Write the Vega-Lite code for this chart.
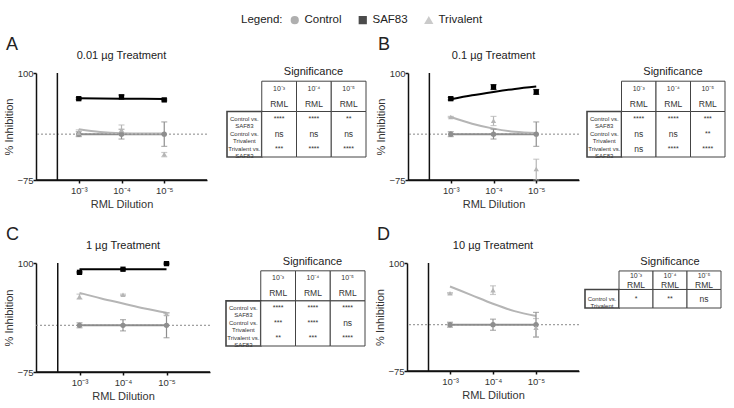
{
  "$schema": "https://vega.github.io/schema/vega-lite/v6.json",
  "background": "white",
  "padding": {"left": 3, "top": 14, "right": 2, "bottom": 2},
  "config": {
    "font": "Liberation Sans",
    "view": {"stroke": null},
    "axis": {"labelFontSize": 9.5, "labelColor": "#333", "titleFontSize": 11, "titleFontWeight": "normal", "titleColor": "#333", "zindex": 1, "domainColor": "#111", "tickColor": "#111", "domainWidth": 1.5, "tickWidth": 1.5, "tickSize": 3, "grid": false},
    "title": {"fontWeight": "normal", "color": "#222", "fontSize": 11},
    "legend": {"titleFontSize": 11.5, "titleFontWeight": "normal", "titleColor": "#222", "labelFontSize": 11.5, "labelColor": "#222", "symbolSize": 45, "columnPadding": 14, "titlePadding": 6, "labelOffset": 4}
  },
  "datasets": {
    "obs": [
      {"panel":"A","series":"Control","dilution":0.001,"value":0,"lo":-4,"hi":4},
      {"panel":"A","series":"Control","dilution":0.0001,"value":0,"lo":-8,"hi":8},
      {"panel":"A","series":"Control","dilution":0.00001,"value":0,"lo":-20,"hi":20},
      {"panel":"A","series":"SAF83","dilution":0.001,"value":58,"lo":56.5,"hi":59.5},
      {"panel":"A","series":"SAF83","dilution":0.0001,"value":61,"lo":58,"hi":64},
      {"panel":"A","series":"SAF83","dilution":0.00001,"value":56,"lo":54.5,"hi":57.5},
      {"panel":"A","series":"Trivalent","dilution":0.001,"value":2,"lo":-3,"hi":7},
      {"panel":"A","series":"Trivalent","dilution":0.0001,"value":7,"lo":-1,"hi":15},
      {"panel":"A","series":"Trivalent","dilution":0.00001,"value":-33,"lo":-37,"hi":-30},
      {"panel":"B","series":"Control","dilution":0.001,"value":0,"lo":-4,"hi":4},
      {"panel":"B","series":"Control","dilution":0.0001,"value":0,"lo":-8,"hi":8},
      {"panel":"B","series":"Control","dilution":0.00001,"value":0,"lo":-20,"hi":20},
      {"panel":"B","series":"SAF83","dilution":0.001,"value":58,"lo":56,"hi":60},
      {"panel":"B","series":"SAF83","dilution":0.0001,"value":77,"lo":73,"hi":81},
      {"panel":"B","series":"SAF83","dilution":0.00001,"value":69,"lo":65,"hi":73},
      {"panel":"B","series":"Trivalent","dilution":0.001,"value":28,"lo":27,"hi":29},
      {"panel":"B","series":"Trivalent","dilution":0.0001,"value":22,"lo":14,"hi":29},
      {"panel":"B","series":"Trivalent","dilution":0.00001,"value":-57,"lo":-75,"hi":-41},
      {"panel":"C","series":"Control","dilution":0.001,"value":0,"lo":-4,"hi":4},
      {"panel":"C","series":"Control","dilution":0.0001,"value":0,"lo":-9,"hi":9},
      {"panel":"C","series":"Control","dilution":0.00001,"value":0,"lo":-20,"hi":20},
      {"panel":"C","series":"SAF83","dilution":0.001,"value":85,"lo":84,"hi":86},
      {"panel":"C","series":"SAF83","dilution":0.0001,"value":90,"lo":89,"hi":91},
      {"panel":"C","series":"SAF83","dilution":0.00001,"value":99,"lo":98,"hi":100},
      {"panel":"C","series":"Trivalent","dilution":0.001,"value":46,"lo":42,"hi":50},
      {"panel":"C","series":"Trivalent","dilution":0.0001,"value":49,"lo":48,"hi":50},
      {"panel":"C","series":"Trivalent","dilution":0.00001,"value":18,"lo":16,"hi":20},
      {"panel":"D","series":"Control","dilution":0.001,"value":0,"lo":-4,"hi":4},
      {"panel":"D","series":"Control","dilution":0.0001,"value":0,"lo":-9,"hi":9},
      {"panel":"D","series":"Control","dilution":0.00001,"value":0,"lo":-20,"hi":20},
      {"panel":"D","series":"Trivalent","dilution":0.001,"value":51,"lo":50,"hi":52},
      {"panel":"D","series":"Trivalent","dilution":0.0001,"value":56,"lo":49,"hi":63},
      {"panel":"D","series":"Trivalent","dilution":0.00001,"value":-5,"lo":-20,"hi":10}
    ],
    "fit": [
      {"panel":"A","series":"Control","dilution":0.001,"value":0},
      {"panel":"A","series":"Control","dilution":0.00001,"value":0},
      {"panel":"A","series":"SAF83","dilution":0.001,"value":58.5},
      {"panel":"A","series":"SAF83","dilution":0.0001,"value":58},
      {"panel":"A","series":"SAF83","dilution":0.00001,"value":57.5},
      {"panel":"A","series":"Trivalent","dilution":0.001,"value":8},
      {"panel":"A","series":"Trivalent","dilution":0.00031623,"value":3.5},
      {"panel":"A","series":"Trivalent","dilution":0.0001,"value":1.5},
      {"panel":"A","series":"Trivalent","dilution":0.000031623,"value":1},
      {"panel":"A","series":"Trivalent","dilution":0.00001,"value":1},
      {"panel":"B","series":"Control","dilution":0.001,"value":0},
      {"panel":"B","series":"Control","dilution":0.00001,"value":0},
      {"panel":"B","series":"SAF83","dilution":0.001,"value":57},
      {"panel":"B","series":"SAF83","dilution":0.00031623,"value":63.5},
      {"panel":"B","series":"SAF83","dilution":0.0001,"value":69},
      {"panel":"B","series":"SAF83","dilution":0.000031623,"value":74},
      {"panel":"B","series":"SAF83","dilution":0.00001,"value":78},
      {"panel":"B","series":"Trivalent","dilution":0.001,"value":28},
      {"panel":"B","series":"Trivalent","dilution":0.00031623,"value":17},
      {"panel":"B","series":"Trivalent","dilution":0.0001,"value":9},
      {"panel":"B","series":"Trivalent","dilution":0.000031623,"value":4},
      {"panel":"B","series":"Trivalent","dilution":0.00001,"value":2},
      {"panel":"C","series":"Control","dilution":0.001,"value":0},
      {"panel":"C","series":"Control","dilution":0.00001,"value":0},
      {"panel":"C","series":"SAF83","dilution":0.001,"value":90},
      {"panel":"C","series":"SAF83","dilution":0.00001,"value":90},
      {"panel":"C","series":"Trivalent","dilution":0.001,"value":52},
      {"panel":"C","series":"Trivalent","dilution":0.00031623,"value":43},
      {"panel":"C","series":"Trivalent","dilution":0.0001,"value":35},
      {"panel":"C","series":"Trivalent","dilution":0.000031623,"value":27},
      {"panel":"C","series":"Trivalent","dilution":0.00001,"value":20},
      {"panel":"D","series":"Control","dilution":0.001,"value":0},
      {"panel":"D","series":"Control","dilution":0.00001,"value":0},
      {"panel":"D","series":"Trivalent","dilution":0.001,"value":62},
      {"panel":"D","series":"Trivalent","dilution":0.00031623,"value":48},
      {"panel":"D","series":"Trivalent","dilution":0.0001,"value":34},
      {"panel":"D","series":"Trivalent","dilution":0.000031623,"value":22},
      {"panel":"D","series":"Trivalent","dilution":0.00001,"value":14}
    ],
    "tables": [
      {"panel":"A","row":"h1","col":"c3","text":"10⁻³"},{"panel":"A","row":"h1","col":"c4","text":"10⁻⁴"},{"panel":"A","row":"h1","col":"c5","text":"10⁻⁵"},
      {"panel":"A","row":"h2","col":"c3","text":"RML"},{"panel":"A","row":"h2","col":"c4","text":"RML"},{"panel":"A","row":"h2","col":"c5","text":"RML"},
      {"panel":"A","row":"r1","col":"label","text":"Control vs.\nSAF83"},{"panel":"A","row":"r1","col":"c3","text":"****"},{"panel":"A","row":"r1","col":"c4","text":"****"},{"panel":"A","row":"r1","col":"c5","text":"**"},
      {"panel":"A","row":"r2","col":"label","text":"Control vs.\nTrivalent"},{"panel":"A","row":"r2","col":"c3","text":"ns"},{"panel":"A","row":"r2","col":"c4","text":"ns"},{"panel":"A","row":"r2","col":"c5","text":"ns"},
      {"panel":"A","row":"r3","col":"label","text":"Trivalent vs.\nSAF83"},{"panel":"A","row":"r3","col":"c3","text":"***"},{"panel":"A","row":"r3","col":"c4","text":"****"},{"panel":"A","row":"r3","col":"c5","text":"****"},
      {"panel":"B","row":"h1","col":"c3","text":"10⁻³"},{"panel":"B","row":"h1","col":"c4","text":"10⁻⁴"},{"panel":"B","row":"h1","col":"c5","text":"10⁻⁵"},
      {"panel":"B","row":"h2","col":"c3","text":"RML"},{"panel":"B","row":"h2","col":"c4","text":"RML"},{"panel":"B","row":"h2","col":"c5","text":"RML"},
      {"panel":"B","row":"r1","col":"label","text":"Control vs.\nSAF83"},{"panel":"B","row":"r1","col":"c3","text":"****"},{"panel":"B","row":"r1","col":"c4","text":"****"},{"panel":"B","row":"r1","col":"c5","text":"***"},
      {"panel":"B","row":"r2","col":"label","text":"Control vs.\nTrivalent"},{"panel":"B","row":"r2","col":"c3","text":"ns"},{"panel":"B","row":"r2","col":"c4","text":"ns"},{"panel":"B","row":"r2","col":"c5","text":"**"},
      {"panel":"B","row":"r3","col":"label","text":"Trivalent vs.\nSAF83"},{"panel":"B","row":"r3","col":"c3","text":"ns"},{"panel":"B","row":"r3","col":"c4","text":"****"},{"panel":"B","row":"r3","col":"c5","text":"****"},
      {"panel":"C","row":"h1","col":"c3","text":"10⁻³"},{"panel":"C","row":"h1","col":"c4","text":"10⁻⁴"},{"panel":"C","row":"h1","col":"c5","text":"10⁻⁵"},
      {"panel":"C","row":"h2","col":"c3","text":"RML"},{"panel":"C","row":"h2","col":"c4","text":"RML"},{"panel":"C","row":"h2","col":"c5","text":"RML"},
      {"panel":"C","row":"r1","col":"label","text":"Control vs.\nSAF83"},{"panel":"C","row":"r1","col":"c3","text":"****"},{"panel":"C","row":"r1","col":"c4","text":"****"},{"panel":"C","row":"r1","col":"c5","text":"****"},
      {"panel":"C","row":"r2","col":"label","text":"Control vs.\nTrivalent"},{"panel":"C","row":"r2","col":"c3","text":"***"},{"panel":"C","row":"r2","col":"c4","text":"****"},{"panel":"C","row":"r2","col":"c5","text":"ns"},
      {"panel":"C","row":"r3","col":"label","text":"Trivalent vs.\nSAF83"},{"panel":"C","row":"r3","col":"c3","text":"**"},{"panel":"C","row":"r3","col":"c4","text":"***"},{"panel":"C","row":"r3","col":"c5","text":"****"},
      {"panel":"D","row":"h1","col":"c3","text":"10⁻³"},{"panel":"D","row":"h1","col":"c4","text":"10⁻⁴"},{"panel":"D","row":"h1","col":"c5","text":"10⁻⁵"},
      {"panel":"D","row":"h2","col":"c3","text":"RML"},{"panel":"D","row":"h2","col":"c4","text":"RML"},{"panel":"D","row":"h2","col":"c5","text":"RML"},
      {"panel":"D","row":"b1","col":"label","text":"Control vs.\nTrivalent"},{"panel":"D","row":"b1","col":"c3","text":"*"},{"panel":"D","row":"b1","col":"c4","text":"**"},{"panel":"D","row":"b1","col":"c5","text":"ns"}
    ]
  },
  "spacing": 16,
  "vconcat": [
    {
      "spacing": 8,
      "hconcat": [
        {
          "title": {"text": "A", "anchor": "start", "fontSize": 18, "offset": -4, "dx": 2},
          "bounds": "flush",
          "spacing": 20,
          "hconcat": [
            {
              "width": 171, "height": 107,
              "title": {"text": "0.01 µg Treatment", "fontSize": 11, "offset": 7},
              "layer": [
                {"data": {"name": "fit"}, "transform": [{"filter": "datum.panel=='A'"}],
                 "mark": {"type": "line", "strokeWidth": 2, "interpolate": "monotone"},
                 "encoding": {
                   "x": {"field": "dilution", "type": "quantitative", "title": "RML Dilution", "scale": {"type": "log", "domain": [0.0000031623, 0.0031623], "reverse": true}, "axis": {"values": [0.001, 0.0001, 0.00001], "labelExpr": "datum.value > 0.0005 ? '10⁻³' : datum.value > 0.00005 ? '10⁻⁴' : '10⁻⁵'", "titlePadding": 4, "labelPadding": 2}},
                   "y": {"field": "value", "type": "quantitative", "title": "% Inhibition", "scale": {"domain": [-75, 100], "nice": false}, "axis": {"values": [-75, -50, -25, 0, 25, 50, 75, 100], "titlePadding": 2, "labelPadding": 0, "labelOverlap": "parity", "labelSeparation": -12}},
                   "color": {"field": "series", "type": "nominal", "title": "Legend:", "scale": {"domain": ["Control", "SAF83", "Trivalent"], "range": ["#8e8e8e", "#000000", "#b5b5b5"]}, "legend": {"orient": "none", "legendX": 205, "legendY": -59, "direction": "horizontal", "titleOrient": "left"}}}},
                {"data": {"name": "obs"}, "transform": [{"filter": "datum.panel=='A' && datum.series=='Control' && datum.dilution==0.001"}],
                 "mark": {"type": "rule", "strokeDash": [2, 2], "color": "#888", "strokeWidth": 1},
                 "encoding": {"y": {"datum": 0, "type": "quantitative"}}},
                {"data": {"name": "obs"}, "transform": [{"filter": "datum.panel=='A' && datum.series=='Control' && datum.dilution==0.001"}],
                 "mark": {"type": "rule", "color": "#111", "strokeWidth": 1.5},
                 "encoding": {"x": {"datum": 0.0031623, "type": "quantitative"}}},
                {"data": {"name": "obs"}, "transform": [{"filter": "datum.panel=='A' && datum.series=='Control' && datum.dilution==0.001"}],
                 "mark": {"type": "rule", "color": "#111", "strokeWidth": 1.5},
                 "encoding": {"y": {"datum": -75, "type": "quantitative"}}},
                {"data": {"name": "obs"}, "transform": [{"filter": "datum.panel=='A'"}],
                 "mark": {"type": "errorbar", "ticks": {"size": 6}, "thickness": 1.2},
                 "encoding": {
                   "x": {"field": "dilution", "type": "quantitative", "title": "RML Dilution"},
                   "y": {"field": "lo", "type": "quantitative", "title": "% Inhibition"},
                   "y2": {"field": "hi"},
                   "color": {"field": "series", "type": "nominal", "title": "Legend:"}}},
                {"data": {"name": "obs"}, "transform": [{"filter": "datum.panel=='A'"}],
                 "mark": {"type": "point", "filled": true, "size": 28, "opacity": 1},
                 "encoding": {
                   "x": {"field": "dilution", "type": "quantitative", "title": "RML Dilution"},
                   "y": {"field": "value", "type": "quantitative", "title": "% Inhibition"},
                   "color": {"field": "series", "type": "nominal", "title": "Legend:"},
                   "shape": {"field": "series", "type": "nominal", "title": "Legend:", "scale": {"domain": ["Control", "SAF83", "Trivalent"], "range": ["circle", "square", "triangle-up"]}, "legend": {"orient": "none", "legendX": 205, "legendY": -59, "direction": "horizontal", "titleOrient": "left"}}}}
              ]
            },
            {
              "width": 139, "height": 84,
              "title": {"text": "Significance", "fontSize": 11, "dx": 17, "offset": -4},
              "data": {"name": "tables"},
              "transform": [{"filter": "datum.panel=='A'"}],
              "layer": [
                {"transform": [{"filter": "datum.row=='h1'"}],
                 "mark": {"type": "rect", "fill": "white", "stroke": "#444", "strokeWidth": 1},
                 "encoding": {
                   "x": {"field": "col", "type": "nominal", "scale": {"domain": ["label", "c3", "c4", "c5"], "paddingInner": 0, "paddingOuter": 0}, "axis": null},
                   "y": {"datum": "h1", "type": "nominal", "bandPosition": 0, "scale": {"domain": ["h1", "h2", "r1", "r2", "r3"], "paddingInner": 0, "paddingOuter": 0.27, "align": 1}, "axis": null},
                   "y2": {"datum": "h2", "bandPosition": 1}}},
                {"transform": [{"filter": "datum.row=='r1'"}],
                 "mark": {"type": "rect", "fill": "white", "stroke": "#444"},
                 "encoding": {
                   "x": {"field": "col", "type": "nominal", "axis": null},
                   "y": {"datum": "r1", "type": "nominal", "bandPosition": 0, "axis": null},
                   "y2": {"datum": "r3", "bandPosition": 1},
                   "strokeWidth": {"condition": {"test": "datum.col=='label'", "value": 1.6}, "value": 1}}},
                {"transform": [{"filter": "datum.row=='h1' || datum.row=='h2'"}],
                 "mark": {"type": "text", "color": "#333"},
                 "encoding": {
                   "x": {"field": "col", "type": "nominal", "axis": null},
                   "y": {"field": "row", "type": "nominal", "axis": null},
                   "text": {"field": "text"},
                   "size": {"condition": {"test": "datum.row=='h2'", "value": 8.5}, "value": 7}}},
                {"transform": [{"filter": "datum.row!='h1' && datum.row!='h2'"}],
                 "mark": {"type": "text", "color": "#333", "lineBreak": "\n", "lineHeight": 7},
                 "encoding": {
                   "x": {"field": "col", "type": "nominal", "axis": null},
                   "y": {"field": "row", "type": "nominal", "axis": null},
                   "text": {"field": "text"},
                   "size": {"condition": [{"test": "datum.col=='label'", "value": 6}, {"test": "datum.text=='ns'", "value": 8.5}], "value": 7}}}
              ]
            }
          ]
        },
        {
          "title": {"text": "B", "anchor": "start", "fontSize": 18, "offset": -4, "dx": 2},
          "bounds": "flush",
          "spacing": 8,
          "hconcat": [
            {
              "width": 171, "height": 107,
              "title": {"text": "0.1 µg Treatment", "fontSize": 11, "offset": 7},
              "layer": [
                {"data": {"name": "fit"}, "transform": [{"filter": "datum.panel=='B'"}],
                 "mark": {"type": "line", "strokeWidth": 2, "interpolate": "monotone"},
                 "encoding": {
                   "x": {"field": "dilution", "type": "quantitative", "title": "RML Dilution", "scale": {"type": "log", "domain": [0.0000031623, 0.0031623], "reverse": true}, "axis": {"values": [0.001, 0.0001, 0.00001], "labelExpr": "datum.value > 0.0005 ? '10⁻³' : datum.value > 0.00005 ? '10⁻⁴' : '10⁻⁵'", "titlePadding": 4, "labelPadding": 2}},
                   "y": {"field": "value", "type": "quantitative", "title": "% Inhibition", "scale": {"domain": [-75, 100], "nice": false}, "axis": {"values": [-75, -50, -25, 0, 25, 50, 75, 100], "titlePadding": 2, "labelPadding": 0, "labelOverlap": "parity", "labelSeparation": -12}},
                   "color": {"field": "series", "type": "nominal", "title": "Legend:"}}},
                {"data": {"name": "obs"}, "transform": [{"filter": "datum.panel=='B' && datum.series=='Control' && datum.dilution==0.001"}],
                 "mark": {"type": "rule", "strokeDash": [2, 2], "color": "#888", "strokeWidth": 1},
                 "encoding": {"y": {"datum": 0, "type": "quantitative"}}},
                {"data": {"name": "obs"}, "transform": [{"filter": "datum.panel=='B' && datum.series=='Control' && datum.dilution==0.001"}],
                 "mark": {"type": "rule", "color": "#111", "strokeWidth": 1.5},
                 "encoding": {"x": {"datum": 0.0031623, "type": "quantitative"}}},
                {"data": {"name": "obs"}, "transform": [{"filter": "datum.panel=='B' && datum.series=='Control' && datum.dilution==0.001"}],
                 "mark": {"type": "rule", "color": "#111", "strokeWidth": 1.5},
                 "encoding": {"y": {"datum": -75, "type": "quantitative"}}},
                {"data": {"name": "obs"}, "transform": [{"filter": "datum.panel=='B'"}],
                 "mark": {"type": "errorbar", "ticks": {"size": 6}, "thickness": 1.2},
                 "encoding": {
                   "x": {"field": "dilution", "type": "quantitative", "title": "RML Dilution"},
                   "y": {"field": "lo", "type": "quantitative", "title": "% Inhibition"},
                   "y2": {"field": "hi"},
                   "color": {"field": "series", "type": "nominal", "title": "Legend:"}}},
                {"data": {"name": "obs"}, "transform": [{"filter": "datum.panel=='B'"}],
                 "mark": {"type": "point", "filled": true, "size": 28, "opacity": 1},
                 "encoding": {
                   "x": {"field": "dilution", "type": "quantitative", "title": "RML Dilution"},
                   "y": {"field": "value", "type": "quantitative", "title": "% Inhibition"},
                   "color": {"field": "series", "type": "nominal", "title": "Legend:"},
                   "shape": {"field": "series", "type": "nominal", "title": "Legend:"}}}
              ]
            },
            {
              "width": 138, "height": 84,
              "title": {"text": "Significance", "fontSize": 11, "dx": 17, "offset": -4},
              "data": {"name": "tables"},
              "transform": [{"filter": "datum.panel=='B'"}],
              "layer": [
                {"transform": [{"filter": "datum.row=='h1'"}],
                 "mark": {"type": "rect", "fill": "white", "stroke": "#444", "strokeWidth": 1},
                 "encoding": {
                   "x": {"field": "col", "type": "nominal", "scale": {"domain": ["label", "c3", "c4", "c5"], "paddingInner": 0, "paddingOuter": 0}, "axis": null},
                   "y": {"datum": "h1", "type": "nominal", "bandPosition": 0, "scale": {"domain": ["h1", "h2", "r1", "r2", "r3"], "paddingInner": 0, "paddingOuter": 0.27, "align": 1}, "axis": null},
                   "y2": {"datum": "h2", "bandPosition": 1}}},
                {"transform": [{"filter": "datum.row=='r1'"}],
                 "mark": {"type": "rect", "fill": "white", "stroke": "#444"},
                 "encoding": {
                   "x": {"field": "col", "type": "nominal", "axis": null},
                   "y": {"datum": "r1", "type": "nominal", "bandPosition": 0, "axis": null},
                   "y2": {"datum": "r3", "bandPosition": 1},
                   "strokeWidth": {"condition": {"test": "datum.col=='label'", "value": 1.6}, "value": 1}}},
                {"transform": [{"filter": "datum.row=='h1' || datum.row=='h2'"}],
                 "mark": {"type": "text", "color": "#333"},
                 "encoding": {
                   "x": {"field": "col", "type": "nominal", "axis": null},
                   "y": {"field": "row", "type": "nominal", "axis": null},
                   "text": {"field": "text"},
                   "size": {"condition": {"test": "datum.row=='h2'", "value": 8.5}, "value": 7}}},
                {"transform": [{"filter": "datum.row!='h1' && datum.row!='h2'"}],
                 "mark": {"type": "text", "color": "#333", "lineBreak": "\n", "lineHeight": 7},
                 "encoding": {
                   "x": {"field": "col", "type": "nominal", "axis": null},
                   "y": {"field": "row", "type": "nominal", "axis": null},
                   "text": {"field": "text"},
                   "size": {"condition": [{"test": "datum.col=='label'", "value": 6}, {"test": "datum.text=='ns'", "value": 8.5}], "value": 7}}}
              ]
            }
          ]
        }
      ]
    },
    {
      "spacing": 8,
      "hconcat": [
        {
          "title": {"text": "C", "anchor": "start", "fontSize": 18, "offset": -4, "dx": 2},
          "bounds": "flush",
          "spacing": 16,
          "hconcat": [
            {
              "width": 174, "height": 109,
              "title": {"text": "1 µg Treatment", "fontSize": 11, "offset": 7},
              "layer": [
                {"data": {"name": "fit"}, "transform": [{"filter": "datum.panel=='C'"}],
                 "mark": {"type": "line", "strokeWidth": 2, "interpolate": "monotone"},
                 "encoding": {
                   "x": {"field": "dilution", "type": "quantitative", "title": "RML Dilution", "scale": {"type": "log", "domain": [0.0000031623, 0.0031623], "reverse": true}, "axis": {"values": [0.001, 0.0001, 0.00001], "labelExpr": "datum.value > 0.0005 ? '10⁻³' : datum.value > 0.00005 ? '10⁻⁴' : '10⁻⁵'", "titlePadding": 4, "labelPadding": 2}},
                   "y": {"field": "value", "type": "quantitative", "title": "% Inhibition", "scale": {"domain": [-75, 100], "nice": false}, "axis": {"values": [-75, -50, -25, 0, 25, 50, 75, 100], "titlePadding": 2, "labelPadding": 0, "labelOverlap": "parity", "labelSeparation": -12}},
                   "color": {"field": "series", "type": "nominal", "title": "Legend:"}}},
                {"data": {"name": "obs"}, "transform": [{"filter": "datum.panel=='C' && datum.series=='Control' && datum.dilution==0.001"}],
                 "mark": {"type": "rule", "strokeDash": [2, 2], "color": "#888", "strokeWidth": 1},
                 "encoding": {"y": {"datum": 0, "type": "quantitative"}}},
                {"data": {"name": "obs"}, "transform": [{"filter": "datum.panel=='C' && datum.series=='Control' && datum.dilution==0.001"}],
                 "mark": {"type": "rule", "color": "#111", "strokeWidth": 1.5},
                 "encoding": {"x": {"datum": 0.0031623, "type": "quantitative"}}},
                {"data": {"name": "obs"}, "transform": [{"filter": "datum.panel=='C' && datum.series=='Control' && datum.dilution==0.001"}],
                 "mark": {"type": "rule", "color": "#111", "strokeWidth": 1.5},
                 "encoding": {"y": {"datum": -75, "type": "quantitative"}}},
                {"data": {"name": "obs"}, "transform": [{"filter": "datum.panel=='C'"}],
                 "mark": {"type": "errorbar", "ticks": {"size": 6}, "thickness": 1.2},
                 "encoding": {
                   "x": {"field": "dilution", "type": "quantitative", "title": "RML Dilution"},
                   "y": {"field": "lo", "type": "quantitative", "title": "% Inhibition"},
                   "y2": {"field": "hi"},
                   "color": {"field": "series", "type": "nominal", "title": "Legend:"}}},
                {"data": {"name": "obs"}, "transform": [{"filter": "datum.panel=='C'"}],
                 "mark": {"type": "point", "filled": true, "size": 28, "opacity": 1},
                 "encoding": {
                   "x": {"field": "dilution", "type": "quantitative", "title": "RML Dilution"},
                   "y": {"field": "value", "type": "quantitative", "title": "% Inhibition"},
                   "color": {"field": "series", "type": "nominal", "title": "Legend:"},
                   "shape": {"field": "series", "type": "nominal", "title": "Legend:"}}}
              ]
            },
            {
              "width": 139, "height": 83,
              "title": {"text": "Significance", "fontSize": 11, "dx": 17, "offset": -4},
              "data": {"name": "tables"},
              "transform": [{"filter": "datum.panel=='C'"}],
              "layer": [
                {"transform": [{"filter": "datum.row=='h1'"}],
                 "mark": {"type": "rect", "fill": "white", "stroke": "#444", "strokeWidth": 1},
                 "encoding": {
                   "x": {"field": "col", "type": "nominal", "scale": {"domain": ["label", "c3", "c4", "c5"], "paddingInner": 0, "paddingOuter": 0}, "axis": null},
                   "y": {"datum": "h1", "type": "nominal", "bandPosition": 0, "scale": {"domain": ["h1", "h2", "r1", "r2", "r3"], "paddingInner": 0, "paddingOuter": 0.26, "align": 1}, "axis": null},
                   "y2": {"datum": "h2", "bandPosition": 1}}},
                {"transform": [{"filter": "datum.row=='r1'"}],
                 "mark": {"type": "rect", "fill": "white", "stroke": "#444"},
                 "encoding": {
                   "x": {"field": "col", "type": "nominal", "axis": null},
                   "y": {"datum": "r1", "type": "nominal", "bandPosition": 0, "axis": null},
                   "y2": {"datum": "r3", "bandPosition": 1},
                   "strokeWidth": {"condition": {"test": "datum.col=='label'", "value": 1.6}, "value": 1}}},
                {"transform": [{"filter": "datum.row=='h1' || datum.row=='h2'"}],
                 "mark": {"type": "text", "color": "#333"},
                 "encoding": {
                   "x": {"field": "col", "type": "nominal", "axis": null},
                   "y": {"field": "row", "type": "nominal", "axis": null},
                   "text": {"field": "text"},
                   "size": {"condition": {"test": "datum.row=='h2'", "value": 8.5}, "value": 7}}},
                {"transform": [{"filter": "datum.row!='h1' && datum.row!='h2'"}],
                 "mark": {"type": "text", "color": "#333", "lineBreak": "\n", "lineHeight": 7},
                 "encoding": {
                   "x": {"field": "col", "type": "nominal", "axis": null},
                   "y": {"field": "row", "type": "nominal", "axis": null},
                   "text": {"field": "text"},
                   "size": {"condition": [{"test": "datum.col=='label'", "value": 6}, {"test": "datum.text=='ns'", "value": 8.5}], "value": 7}}}
              ]
            }
          ]
        },
        {
          "title": {"text": "D", "anchor": "start", "fontSize": 18, "offset": -4, "dx": 2},
          "bounds": "flush",
          "spacing": 6,
          "hconcat": [
            {
              "width": 172, "height": 108,
              "title": {"text": "10 µg Treatment", "fontSize": 11, "offset": 7},
              "layer": [
                {"data": {"name": "fit"}, "transform": [{"filter": "datum.panel=='D'"}],
                 "mark": {"type": "line", "strokeWidth": 2, "interpolate": "monotone"},
                 "encoding": {
                   "x": {"field": "dilution", "type": "quantitative", "title": "RML Dilution", "scale": {"type": "log", "domain": [0.0000031623, 0.0031623], "reverse": true}, "axis": {"values": [0.001, 0.0001, 0.00001], "labelExpr": "datum.value > 0.0005 ? '10⁻³' : datum.value > 0.00005 ? '10⁻⁴' : '10⁻⁵'", "titlePadding": 4, "labelPadding": 2}},
                   "y": {"field": "value", "type": "quantitative", "title": "% Inhibition", "scale": {"domain": [-75, 100], "nice": false}, "axis": {"values": [-75, -50, -25, 0, 25, 50, 75, 100], "titlePadding": 2, "labelPadding": 0, "labelOverlap": "parity", "labelSeparation": -12}},
                   "color": {"field": "series", "type": "nominal", "title": "Legend:"}}},
                {"data": {"name": "obs"}, "transform": [{"filter": "datum.panel=='D' && datum.series=='Control' && datum.dilution==0.001"}],
                 "mark": {"type": "rule", "strokeDash": [2, 2], "color": "#888", "strokeWidth": 1},
                 "encoding": {"y": {"datum": 0, "type": "quantitative"}}},
                {"data": {"name": "obs"}, "transform": [{"filter": "datum.panel=='D' && datum.series=='Control' && datum.dilution==0.001"}],
                 "mark": {"type": "rule", "color": "#111", "strokeWidth": 1.5},
                 "encoding": {"x": {"datum": 0.0031623, "type": "quantitative"}}},
                {"data": {"name": "obs"}, "transform": [{"filter": "datum.panel=='D' && datum.series=='Control' && datum.dilution==0.001"}],
                 "mark": {"type": "rule", "color": "#111", "strokeWidth": 1.5},
                 "encoding": {"y": {"datum": -75, "type": "quantitative"}}},
                {"data": {"name": "obs"}, "transform": [{"filter": "datum.panel=='D'"}],
                 "mark": {"type": "errorbar", "ticks": {"size": 6}, "thickness": 1.2},
                 "encoding": {
                   "x": {"field": "dilution", "type": "quantitative", "title": "RML Dilution"},
                   "y": {"field": "lo", "type": "quantitative", "title": "% Inhibition"},
                   "y2": {"field": "hi"},
                   "color": {"field": "series", "type": "nominal", "title": "Legend:"}}},
                {"data": {"name": "obs"}, "transform": [{"filter": "datum.panel=='D'"}],
                 "mark": {"type": "point", "filled": true, "size": 28, "opacity": 1},
                 "encoding": {
                   "x": {"field": "dilution", "type": "quantitative", "title": "RML Dilution"},
                   "y": {"field": "value", "type": "quantitative", "title": "% Inhibition"},
                   "color": {"field": "series", "type": "nominal", "title": "Legend:"},
                   "shape": {"field": "series", "type": "nominal", "title": "Legend:"}}}
              ]
            },
            {
              "width": 136, "height": 45,
              "title": {"text": "Significance", "fontSize": 11, "dx": 17, "offset": -4},
              "data": {"name": "tables"},
              "transform": [{"filter": "datum.panel=='D'"}],
              "layer": [
                {"transform": [{"filter": "datum.row=='h1'"}],
                 "mark": {"type": "rect", "fill": "white", "stroke": "#444", "strokeWidth": 1},
                 "encoding": {
                   "x": {"field": "col", "type": "nominal", "scale": {"domain": ["label", "c3", "c4", "c5"], "paddingInner": 0, "paddingOuter": 0}, "axis": null},
                   "y": {"datum": "h1", "type": "nominal", "bandPosition": 0, "scale": {"domain": ["h1", "h2", "b1", "b2"], "paddingInner": 0, "paddingOuter": 0.43, "align": 1}, "axis": null},
                   "y2": {"datum": "h2", "bandPosition": 1}}},
                {"transform": [{"filter": "datum.row=='b1'"}],
                 "mark": {"type": "rect", "fill": "white", "stroke": "#444"},
                 "encoding": {
                   "x": {"field": "col", "type": "nominal", "axis": null},
                   "y": {"datum": "b1", "type": "nominal", "bandPosition": 0, "axis": null},
                   "y2": {"datum": "b2", "bandPosition": 1},
                   "strokeWidth": {"condition": {"test": "datum.col=='label'", "value": 1.6}, "value": 1}}},
                {"transform": [{"filter": "datum.row=='h1' || datum.row=='h2'"}],
                 "mark": {"type": "text", "color": "#333"},
                 "encoding": {
                   "x": {"field": "col", "type": "nominal", "axis": null},
                   "y": {"field": "row", "type": "nominal", "axis": null},
                   "text": {"field": "text"},
                   "size": {"condition": {"test": "datum.row=='h2'", "value": 8.5}, "value": 7}}},
                {"transform": [{"filter": "datum.row=='b1'"}],
                 "mark": {"type": "text", "color": "#333", "lineBreak": "\n", "lineHeight": 7},
                 "encoding": {
                   "x": {"field": "col", "type": "nominal", "axis": null},
                   "y": {"field": "row", "type": "nominal", "bandPosition": 1, "axis": null},
                   "text": {"field": "text"},
                   "size": {"condition": [{"test": "datum.col=='label'", "value": 6}, {"test": "datum.text=='ns'", "value": 8.5}], "value": 7}}}
              ]
            }
          ]
        }
      ]
    }
  ]
}
